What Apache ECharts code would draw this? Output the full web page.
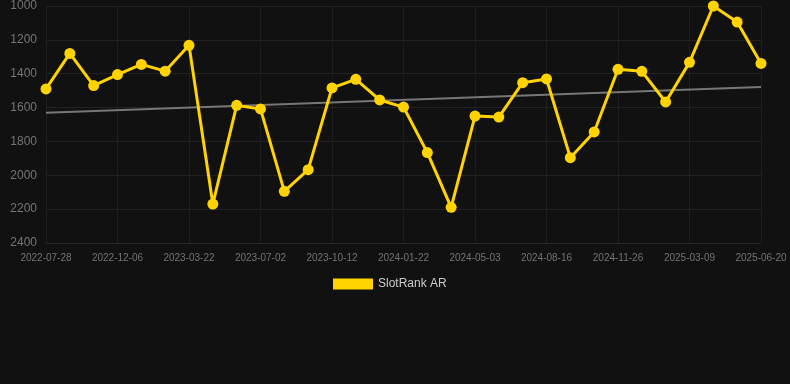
<!DOCTYPE html>
<html>
<head>
<meta charset="utf-8">
<script src="https://cdn.jsdelivr.net/npm/echarts@6/dist/echarts.min.js"></script>
<style>
html,body{margin:0;padding:0;background:#111111;}
#c{width:790px;height:384px;}
</style>
</head>
<body>
<div id="c"></div>
<script>
const categories = [
  '2022-07-28','2022-09-10','2022-10-23','2022-12-06','2023-01-11','2023-02-15',
  '2023-03-22','2023-04-25','2023-05-29','2023-07-02','2023-08-05','2023-09-08',
  '2023-10-12','2023-11-15','2023-12-19','2024-01-22','2024-02-25','2024-03-30',
  '2024-05-03','2024-06-07','2024-07-12','2024-08-16','2024-09-19','2024-10-23',
  '2024-11-26','2024-12-30','2025-02-02','2025-03-09','2025-04-12','2025-05-16',
  '2025-06-20'
];
const rankValues = [
  1490, 1280, 1470, 1405, 1345, 1385, 1232, 2170, 1587, 1608, 2095,
  1967, 1484, 1433, 1555, 1597, 1866, 2189, 1650, 1656, 1453,
  1431, 1896, 1744, 1374, 1386, 1567, 1333, 1000, 1095, 1339
];
const trendStart = 1630;
const trendEnd = 1478;
const yTicks = { min: 1000, max: 2400, interval: 200 };

const trendData = categories.map((c, i) => i === 0 ? trendStart : (i === categories.length - 1 ? trendEnd : null));

const chart = echarts.init(document.getElementById('c'));
chart.setOption({
  backgroundColor: '#111111',
  animation: false,
  grid: { left: 46, right: 29, top: 6, bottom: 141, containLabel: false },
  legend: {
    top: 273,
    left: 328,
    icon: 'rect',
    itemWidth: 40,
    itemHeight: 11,
    itemGap: 10,
    textStyle: { color: '#cccccc', fontSize: 12, fontFamily: 'Liberation Sans, Arial, sans-serif' },
    data: ['SlotRank AR']
  },
  xAxis: {
    type: 'category',
    data: categories,
    boundaryGap: false,
    axisLine: { show: true, lineStyle: { color: '#262626' } },
    axisTick: { show: false },
    axisLabel: {
      interval: 2,
      color: '#737373',
      fontSize: 10,
      margin: 10,
      fontFamily: 'Liberation Sans, Arial, sans-serif'
    },
    splitLine: { show: true, interval: 2, lineStyle: { color: '#1e1e1e' } }
  },
  yAxis: {
    type: 'value',
    inverse: true,
    min: yTicks.min,
    max: yTicks.max,
    interval: yTicks.interval,
    axisLine: { show: false },
    axisTick: { show: false },
    axisLabel: {
      color: '#757575',
      fontSize: 12,
      margin: 9,
      formatter: v => String(v),
      fontFamily: 'Liberation Sans, Arial, sans-serif'
    },
    splitLine: { show: true, lineStyle: { color: '#222222' } }
  },
  series: [
    {
      name: 'Trend',
      type: 'line',
      data: trendData,
      connectNulls: true,
      showSymbol: false,
      symbol: 'none',
      lineStyle: { color: '#777777', width: 2 },
      z: 1,
      silent: true
    },
    {
      name: 'SlotRank AR',
      type: 'line',
      data: rankValues,
      symbol: 'circle',
      symbolSize: 11,
      showAllSymbol: true,
      itemStyle: { color: '#ffd300' },
      lineStyle: { color: '#ffd300', width: 3 },
      z: 2
    }
  ]
});
</script>
</body>
</html>
